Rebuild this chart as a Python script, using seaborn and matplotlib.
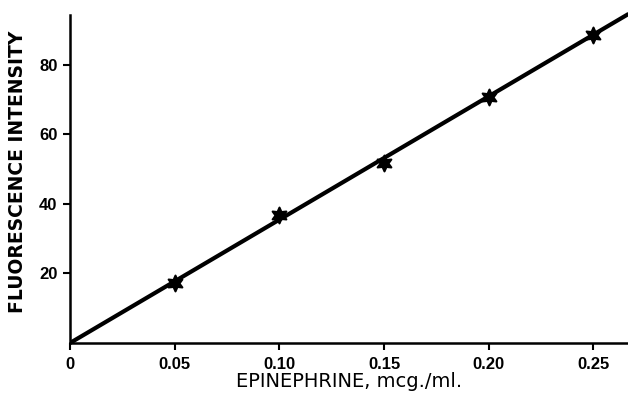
import matplotlib
matplotlib.use("Agg")
import matplotlib.pyplot as plt
import seaborn as sns
import pandas as pd

# Data
epinephrine = [0.05, 0.10, 0.15, 0.20, 0.25]
intensity = [17.3, 36.8, 51.8, 70.8, 88.6]
line_x = [0.0, 0.2665]
line_y = [0.0, 94.6]
xtick_vals = [0, 0.05, 0.10, 0.15, 0.20, 0.25]
xtick_labels = ["0", "0.05", "0.10", "0.15", "0.20", "0.25"]
ytick_vals = [20, 40, 60, 80]
ytick_labels = ["20", "40", "60", "80"]

sns.set_theme(style="ticks")
plt.rcParams['font.family'] = ['Liberation Sans', 'DejaVu Sans']

fig = plt.figure(figsize=(6.28, 3.96), dpi=100)
ax = fig.add_axes([70/628, 53/396, 558/628, 343/396])

pts = pd.DataFrame({"x": epinephrine, "y": intensity})
ln = pd.DataFrame({"x": line_x, "y": line_y})

sns.lineplot(data=ln, x="x", y="y", ax=ax, color="black", linewidth=3.0)
sns.scatterplot(data=pts, x="x", y="y", ax=ax, marker=(6, 1, 0), s=130,
                color="black", edgecolor="black", linewidth=1.5, zorder=5)

ax.set_xlim(0, 0.2665)
ax.set_ylim(0, 98.7)
ax.spines['top'].set_visible(False)
ax.spines['right'].set_visible(False)
ax.spines['left'].set_bounds(0, 94.4)
ax.spines['left'].set_linewidth(1.8)
ax.spines['bottom'].set_linewidth(1.8)
ax.spines['left'].set_color("black")
ax.spines['bottom'].set_color("black")

ax.set_xticks(xtick_vals)
ax.set_xticklabels(xtick_labels, fontsize=12, fontweight="bold")
ax.set_yticks(ytick_vals)
ax.set_yticklabels(ytick_labels, fontsize=12, fontweight="bold")
ax.tick_params(axis="both", direction="out", length=5, width=1.5, colors="black", pad=4)
ax.tick_params(axis="x", pad=5)

ax.set_xlabel("EPINEPHRINE, mcg./ml.", fontsize=14, labelpad=0, color="black",
              fontweight="medium", family=["DejaVu Sans"])
ax.set_ylabel("FLUORESCENCE INTENSITY", fontsize=13.5, fontweight="bold", labelpad=9,
              color="black", family=["DejaVu Sans"])

fig.savefig("out.png", dpi=100)
